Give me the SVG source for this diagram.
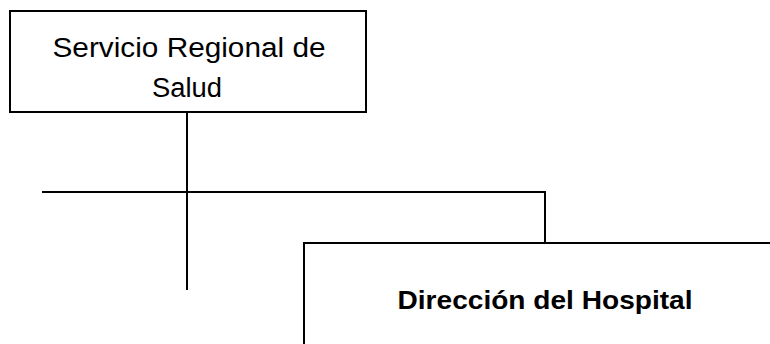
<svg xmlns="http://www.w3.org/2000/svg" width="770" height="344" viewBox="0 0 770 344">
<style>
.box{fill:#fff;stroke:#000;stroke-width:2}
.ln{fill:none;stroke:#000;stroke-width:2}
.t{font-family:"Liberation Sans",Arial,sans-serif;fill:#000;text-anchor:middle}
</style>
<rect width="770" height="344" fill="#fff"/>
<g id="connectors">
<path class="ln" d="M187,112 V290"/>
<path class="ln" d="M42,192 H545 V243"/>
</g>
<g id="node-servicio">
<rect class="box" x="10" y="11" width="356" height="101"/>
<text class="t" x="189" y="57" font-size="27" textLength="273" lengthAdjust="spacingAndGlyphs">Servicio Regional de</text>
<text class="t" x="187" y="97" font-size="27" textLength="70" lengthAdjust="spacingAndGlyphs">Salud</text>
</g>
<g id="node-direccion">
<rect class="box" x="304" y="243" width="480" height="120"/>
<text class="t" x="545" y="309" font-size="26" font-weight="bold" textLength="295" lengthAdjust="spacingAndGlyphs">Dirección del Hospital</text>
</g>
</svg>
